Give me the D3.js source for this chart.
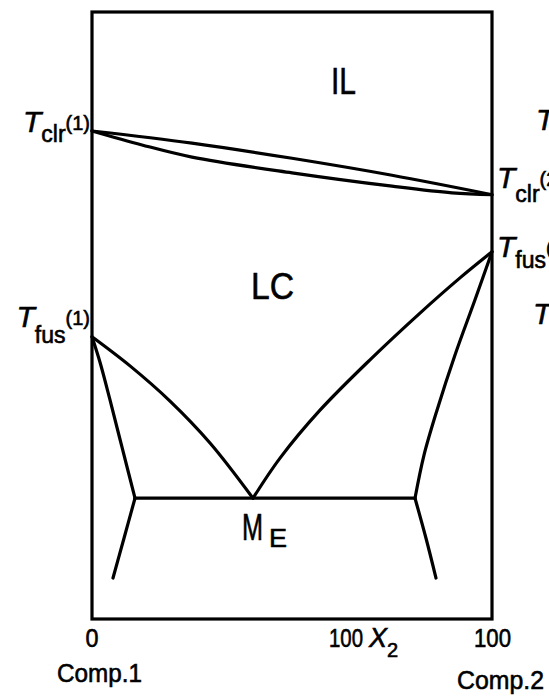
<!DOCTYPE html>
<html>
<head>
<meta charset="utf-8">
<script src="https://cdn.jsdelivr.net/npm/d3@7"></script>
<style>
  html, body { margin: 0; padding: 0; background: #fff; }
  svg { display: block; }
  text { font-family: "Liberation Sans", Arial, sans-serif; fill: #000; stroke: #000; stroke-width: 0.6px; }
</style>
</head>
<body>
<svg id="chart" width="549" height="698"></svg>
<script>
// Binary phase diagram: composition (100 x2, mol %) vs temperature (arbitrary units)

// Clearing two-phase lens (isotropic liquid / liquid crystal)
const clrUpper = [[0, 80.4], [25, 78.4], [50, 75.9], [75, 73.1], [100, 69.9]];
const clrLower = [[0, 80.4], [12.5, 78.1], [25, 76.1], [50, 73.5], [75, 71.3], [90, 70.2], [100, 69.9]];

// Liquidus branches meeting at the eutectic point
const liquidusLeft = [[0, 46.5], [9.5, 41.7], [19.5, 35.9], [29.5, 29.0], [40.25, 19.9]];
const liquidusRight = [[40.25, 19.9], [47, 26.5], [57, 34.4], [69.5, 42.7], [82, 50.4], [92, 56.2], [100, 60.5]];

// Solid-solution boundaries
const solidusLeft = [[0, 46.5], [2, 42.3], [4.5, 36.1], [7.5, 28.3], [10.75, 19.9]];
const solvusLeft = [[10.75, 19.9], [8, 13.3], [5.25, 6.75]];
const solidusRight = [[100, 60.5], [95.75, 52.6], [90.75, 43.5], [86.25, 34.4], [83, 27.0], [80.75, 19.9]];
const solvusRight = [[80.75, 19.9], [83.5, 13.3], [86, 6.75]];

// Eutectic horizontal
const eutecticLine = [[10.75, 19.9], [80.75, 19.9]];
const eutecticPoint = [40.25, 19.9];

// Transition temperatures of the pure components
const tClr = [80.4, 69.9];   // comp.1, comp.2
const tFus = [46.5, 60.5];

// Axis texts
const xEndLabels = ["0", "100"];
const compLabels = ["Comp.1", "Comp.2"];

const svg = d3.select("#chart");
const x = d3.scaleLinear().domain([0, 100]).range([92, 492]);
const y = d3.scaleLinear().domain([0, 100]).range([619, 12]);

const line = d3.line().x(d => x(d[0])).y(d => y(d[1])).curve(d3.curveCatmullRom.alpha(0.5));

// frame
svg.append("rect")
  .attr("x", x(0)).attr("y", y(100))
  .attr("width", x(100) - x(0)).attr("height", y(0) - y(100))
  .attr("fill", "none").attr("stroke", "#000").attr("stroke-width", 3.2);

const curves = [clrUpper, clrLower, liquidusLeft, liquidusRight,
                solidusLeft, solvusLeft, solidusRight, solvusRight, eutecticLine];
svg.append("g").selectAll("path").data(curves).join("path")
  .attr("d", line)
  .attr("fill", "none").attr("stroke", "#000")
  .attr("stroke-width", 3.2).attr("stroke-linejoin", "round").attr("stroke-linecap", "round");

// Temperature label: italic T, subscript, then "(n)"
function tempLabel(px, py, sub, num, anchor, tOff, subOff) {
  const t = svg.append("text").attr("x", px).attr("y", py + tOff).attr("text-anchor", anchor);
  t.append("tspan").attr("font-style", "italic").attr("font-size", 30).text("T");
  t.append("tspan").attr("font-size", 23).attr("dy", subOff - tOff).text(sub);
  t.append("tspan").attr("font-size", 20).attr("dy", tOff - subOff - 2).text("(" + num + ")");
  return t;
}
tempLabel(x(0) - 2, y(tClr[0]), "clr", 1, "end", 1, 11);
tempLabel(x(0) - 2, y(tFus[0]), "fus", 1, "end", -10, 6);
tempLabel(x(100) + 5, y(tClr[1]), "clr", 2, "start", -7, 7);
tempLabel(x(100) + 5, y(tFus[1]), "fus", 2, "start", 5, 16);
// labels of the neighbouring panel, cut by the page edge
tempLabel(536, 120, "clr", 1, "start", 10, 20);
tempLabel(533, 312, "fus", 1, "start", 12, 22);

// region labels
function bigText(txt, px, py, len, size) {
  return svg.append("text").attr("x", px).attr("y", py)
    .attr("font-size", size).attr("textLength", len)
    .attr("lengthAdjust", "spacingAndGlyphs").text(txt);
}
bigText("IL", 331, 94, 25, 37);
bigText("LC", 251, 299, 43, 37);

// eutectic mixture label M_E
const meLabel = svg.append("text")
  .attr("x", x(eutecticPoint[0]) - 11).attr("y", y(eutecticPoint[1]) + 42);
meLabel.append("tspan").attr("font-size", 37).attr("textLength", 21)
  .attr("lengthAdjust", "spacingAndGlyphs").text("M");
meLabel.append("tspan").attr("font-size", 26).attr("dx", 6).attr("dy", 7)
  .attr("textLength", 18).attr("lengthAdjust", "spacingAndGlyphs").text("E");

// axis end labels
svg.append("text").attr("x", x(0)).attr("y", 647).attr("text-anchor", "middle")
  .attr("font-size", 25).attr("textLength", 13).attr("lengthAdjust", "spacingAndGlyphs").text(xEndLabels[0]);
svg.append("text").attr("x", x(100) - 18).attr("y", 647)
  .attr("font-size", 25).attr("textLength", 37).attr("lengthAdjust", "spacingAndGlyphs").text(xEndLabels[1]);

// axis title 100 x2
const ttl = svg.append("text").attr("x", 329).attr("y", 647);
ttl.append("tspan").attr("font-size", 25).attr("textLength", 34).attr("lengthAdjust", "spacingAndGlyphs").text("100");
ttl.append("tspan").attr("font-size", 27).attr("font-style", "italic").attr("dx", 6).text("X");
ttl.append("tspan").attr("font-size", 20).attr("dy", 10).text("2");

// component names
svg.append("text").attr("x", 57).attr("y", 682).attr("font-size", 26)
  .attr("textLength", 85).attr("lengthAdjust", "spacingAndGlyphs").text(compLabels[0]);
svg.append("text").attr("x", 457).attr("y", 689).attr("font-size", 26)
  .attr("textLength", 87).attr("lengthAdjust", "spacingAndGlyphs").text(compLabels[1]);
</script>
</body>
</html>
